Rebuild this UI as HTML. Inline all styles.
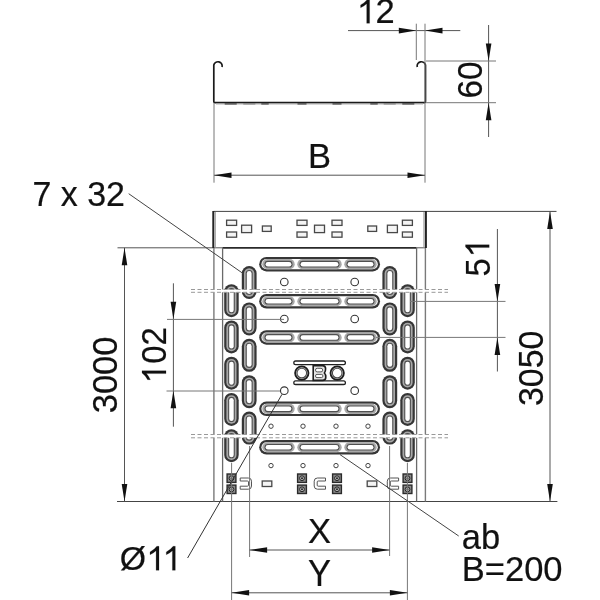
<!DOCTYPE html>
<html><head><meta charset="utf-8"><style>
html,body{margin:0;padding:0;background:#fff;width:600px;height:600px;overflow:hidden}
svg{display:block;will-change:transform}
text{font-family:"Liberation Sans", sans-serif}
</style></head><body>
<svg width="600" height="600" viewBox="0 0 600 600">
<rect width="600" height="600" fill="#fff"/>
<path d="M 222 67 A 4.2 4.2 0 0 0 213.8 65 L 213.8 101.5 Q 213.8 102.6 215 102.6 L 424.3 102.6 Q 425.5 102.6 425.5 101.5 L 425.5 65 A 4.2 4.2 0 0 0 417.3 67" fill="none" stroke="#1a1a1a" stroke-width="1.7"/>
<line x1="216" y1="104" x2="423" y2="104" stroke="#b0b0b0" stroke-width="1" />
<line x1="224.7" y1="103.9" x2="236.7" y2="103.9" stroke="#444" stroke-width="1.3" />
<line x1="261.3" y1="103.9" x2="268.7" y2="103.9" stroke="#444" stroke-width="1.3" />
<line x1="297.5" y1="103.9" x2="306.5" y2="103.9" stroke="#444" stroke-width="1.3" />
<line x1="332.5" y1="103.9" x2="341.5" y2="103.9" stroke="#444" stroke-width="1.3" />
<line x1="370.3" y1="103.9" x2="377.7" y2="103.9" stroke="#444" stroke-width="1.3" />
<line x1="402.3" y1="103.9" x2="414.3" y2="103.9" stroke="#444" stroke-width="1.3" />
<line x1="243.3" y1="103.9" x2="255.3" y2="103.9" stroke="#777" stroke-width="1.1" />
<line x1="383.7" y1="103.9" x2="395.7" y2="103.9" stroke="#777" stroke-width="1.1" />
<line x1="348" y1="30.6" x2="460.3" y2="30.6" stroke="#555" stroke-width="1" />
<polygon points="416.30,30.60 398.80,27.80 398.80,33.40" fill="#111"/>
<polygon points="425.00,30.60 442.50,27.80 442.50,33.40" fill="#111"/>
<line x1="416.3" y1="23.7" x2="416.3" y2="60" stroke="#777" stroke-width="1" />
<line x1="425" y1="23.7" x2="425" y2="182.7" stroke="#777" stroke-width="1" />
<path transform="translate(369.60 23.30)" d="M 0 0 L 0 -24 L -2.2 -24 Q -4.6 -20.6 -9 -18.4 L -9 -15.6 Q -5.6 -17.1 -2.9 -19.6 L -2.9 0 Z" fill="#111" stroke="#111" stroke-width="0.2"/>
<text transform="translate(375.50 23.30) scale(1.000 1.000)" x="0" y="0" font-size="34.5" fill="#111" stroke="#111" stroke-width="0.2">2</text>
<line x1="488.6" y1="25" x2="488.6" y2="137" stroke="#555" stroke-width="1" />
<line x1="426" y1="61" x2="496" y2="61" stroke="#777" stroke-width="1" />
<line x1="426" y1="102.7" x2="496" y2="102.7" stroke="#777" stroke-width="1" />
<polygon points="488.60,61.00 485.80,43.50 491.40,43.50" fill="#111"/>
<polygon points="488.60,102.70 485.80,120.20 491.40,120.20" fill="#111"/>
<text transform="translate(481.50 98.60) rotate(-90) scale(0.966 1.000)" x="0" y="0" font-size="34.5" fill="#111" stroke="#111" stroke-width="0.2">60</text>
<line x1="214" y1="175.2" x2="425" y2="175.2" stroke="#555" stroke-width="1" />
<line x1="214" y1="103" x2="214" y2="182.7" stroke="#777" stroke-width="1" />
<polygon points="214.00,175.20 231.50,172.40 231.50,178.00" fill="#111"/>
<polygon points="425.00,175.20 407.50,172.40 407.50,178.00" fill="#111"/>
<text transform="translate(308.00 167.80) scale(1.000 1.000)" x="0" y="0" font-size="34.5" fill="#111" stroke="#111" stroke-width="0.2">B</text>
<line x1="117.5" y1="247.8" x2="222.4" y2="247.8" stroke="#555" stroke-width="1" />
<line x1="222.4" y1="247.9" x2="416.6" y2="247.9" stroke="#2a2a2a" stroke-width="1.8" />
<line x1="416.6" y1="247.8" x2="426" y2="247.8" stroke="#555" stroke-width="1" />
<line x1="117" y1="501.5" x2="557.4" y2="501.5" stroke="#444" stroke-width="1" />
<line x1="213.5" y1="211.4" x2="556.5" y2="211.4" stroke="#444" stroke-width="1" />
<line x1="213.3" y1="211" x2="213.3" y2="248" stroke="#222" stroke-width="2" />
<line x1="215.2" y1="212" x2="215.2" y2="247.5" stroke="#999" stroke-width="1.2" />
<line x1="425.9" y1="211" x2="425.9" y2="248" stroke="#222" stroke-width="2" />
<line x1="424" y1="212" x2="424" y2="247.5" stroke="#999" stroke-width="1.2" />
<line x1="213.9" y1="248" x2="213.9" y2="501.5" stroke="#7a7a7a" stroke-width="1.4" />
<line x1="222.6" y1="248" x2="222.6" y2="501.5" stroke="#6a6a6a" stroke-width="1.3" />
<line x1="416.6" y1="248" x2="416.6" y2="501.5" stroke="#6a6a6a" stroke-width="1.3" />
<line x1="425.4" y1="248" x2="425.4" y2="501.5" stroke="#7a7a7a" stroke-width="1.4" />
<rect x="226.60" y="220.20" width="10.00" height="5.20" fill="#f4f4f4" stroke="#484848" stroke-width="1.3"/>
<rect x="226.60" y="232.00" width="10.00" height="5.20" fill="#f4f4f4" stroke="#484848" stroke-width="1.3"/>
<rect x="402.40" y="220.20" width="10.00" height="5.20" fill="#f4f4f4" stroke="#484848" stroke-width="1.3"/>
<rect x="402.40" y="232.00" width="10.00" height="5.20" fill="#f4f4f4" stroke="#484848" stroke-width="1.3"/>
<rect x="297.00" y="220.20" width="10.00" height="5.20" fill="#f4f4f4" stroke="#484848" stroke-width="1.3"/>
<rect x="297.00" y="232.00" width="10.00" height="5.20" fill="#f4f4f4" stroke="#484848" stroke-width="1.3"/>
<rect x="332.00" y="220.20" width="10.00" height="5.20" fill="#f4f4f4" stroke="#484848" stroke-width="1.3"/>
<rect x="332.00" y="232.00" width="10.00" height="5.20" fill="#f4f4f4" stroke="#484848" stroke-width="1.3"/>
<rect x="241.60" y="225.20" width="10.00" height="7.40" fill="#f4f4f4" stroke="#484848" stroke-width="1.3"/>
<rect x="387.40" y="225.20" width="10.00" height="7.40" fill="#f4f4f4" stroke="#484848" stroke-width="1.3"/>
<rect x="314.50" y="225.20" width="10.00" height="7.40" fill="#f4f4f4" stroke="#484848" stroke-width="1.3"/>
<rect x="262.40" y="226.00" width="8.80" height="5.40" fill="#f4f4f4" stroke="#484848" stroke-width="1.3"/>
<rect x="367.80" y="226.00" width="8.80" height="5.40" fill="#f4f4f4" stroke="#484848" stroke-width="1.3"/>
<rect x="224.20" y="284.20" width="14.50" height="33.00" rx="7.25" fill="#363636"/><rect x="226.40" y="286.40" width="10.10" height="28.60" rx="5.05" fill="#a8a8a8"/><rect x="228.10" y="288.10" width="6.70" height="25.20" rx="3.35" fill="#505050"/><rect x="229.20" y="289.20" width="4.50" height="23.00" rx="2.25" fill="#fff"/>
<rect x="400.30" y="284.20" width="14.50" height="33.00" rx="7.25" fill="#363636"/><rect x="402.50" y="286.40" width="10.10" height="28.60" rx="5.05" fill="#a8a8a8"/><rect x="404.20" y="288.10" width="6.70" height="25.20" rx="3.35" fill="#505050"/><rect x="405.30" y="289.20" width="4.50" height="23.00" rx="2.25" fill="#fff"/>
<rect x="241.80" y="266.00" width="14.80" height="33.00" rx="7.40" fill="#363636"/><rect x="244.00" y="268.20" width="10.40" height="28.60" rx="5.20" fill="#a8a8a8"/><rect x="245.70" y="269.90" width="7.00" height="25.20" rx="3.50" fill="#505050"/><rect x="246.80" y="271.00" width="4.80" height="23.00" rx="2.40" fill="#fff"/>
<rect x="382.40" y="266.00" width="14.80" height="33.00" rx="7.40" fill="#363636"/><rect x="384.60" y="268.20" width="10.40" height="28.60" rx="5.20" fill="#a8a8a8"/><rect x="386.30" y="269.90" width="7.00" height="25.20" rx="3.50" fill="#505050"/><rect x="387.40" y="271.00" width="4.80" height="23.00" rx="2.40" fill="#fff"/>
<rect x="224.20" y="320.45" width="14.50" height="33.00" rx="7.25" fill="#363636"/><rect x="226.40" y="322.65" width="10.10" height="28.60" rx="5.05" fill="#a8a8a8"/><rect x="228.10" y="324.35" width="6.70" height="25.20" rx="3.35" fill="#505050"/><rect x="229.20" y="325.45" width="4.50" height="23.00" rx="2.25" fill="#fff"/>
<rect x="400.30" y="320.45" width="14.50" height="33.00" rx="7.25" fill="#363636"/><rect x="402.50" y="322.65" width="10.10" height="28.60" rx="5.05" fill="#a8a8a8"/><rect x="404.20" y="324.35" width="6.70" height="25.20" rx="3.35" fill="#505050"/><rect x="405.30" y="325.45" width="4.50" height="23.00" rx="2.25" fill="#fff"/>
<rect x="241.80" y="302.40" width="14.80" height="33.00" rx="7.40" fill="#363636"/><rect x="244.00" y="304.60" width="10.40" height="28.60" rx="5.20" fill="#a8a8a8"/><rect x="245.70" y="306.30" width="7.00" height="25.20" rx="3.50" fill="#505050"/><rect x="246.80" y="307.40" width="4.80" height="23.00" rx="2.40" fill="#fff"/>
<rect x="382.40" y="302.40" width="14.80" height="33.00" rx="7.40" fill="#363636"/><rect x="384.60" y="304.60" width="10.40" height="28.60" rx="5.20" fill="#a8a8a8"/><rect x="386.30" y="306.30" width="7.00" height="25.20" rx="3.50" fill="#505050"/><rect x="387.40" y="307.40" width="4.80" height="23.00" rx="2.40" fill="#fff"/>
<rect x="224.20" y="356.70" width="14.50" height="33.00" rx="7.25" fill="#363636"/><rect x="226.40" y="358.90" width="10.10" height="28.60" rx="5.05" fill="#a8a8a8"/><rect x="228.10" y="360.60" width="6.70" height="25.20" rx="3.35" fill="#505050"/><rect x="229.20" y="361.70" width="4.50" height="23.00" rx="2.25" fill="#fff"/>
<rect x="400.30" y="356.70" width="14.50" height="33.00" rx="7.25" fill="#363636"/><rect x="402.50" y="358.90" width="10.10" height="28.60" rx="5.05" fill="#a8a8a8"/><rect x="404.20" y="360.60" width="6.70" height="25.20" rx="3.35" fill="#505050"/><rect x="405.30" y="361.70" width="4.50" height="23.00" rx="2.25" fill="#fff"/>
<rect x="241.80" y="338.80" width="14.80" height="33.00" rx="7.40" fill="#363636"/><rect x="244.00" y="341.00" width="10.40" height="28.60" rx="5.20" fill="#a8a8a8"/><rect x="245.70" y="342.70" width="7.00" height="25.20" rx="3.50" fill="#505050"/><rect x="246.80" y="343.80" width="4.80" height="23.00" rx="2.40" fill="#fff"/>
<rect x="382.40" y="338.80" width="14.80" height="33.00" rx="7.40" fill="#363636"/><rect x="384.60" y="341.00" width="10.40" height="28.60" rx="5.20" fill="#a8a8a8"/><rect x="386.30" y="342.70" width="7.00" height="25.20" rx="3.50" fill="#505050"/><rect x="387.40" y="343.80" width="4.80" height="23.00" rx="2.40" fill="#fff"/>
<rect x="224.20" y="392.95" width="14.50" height="33.00" rx="7.25" fill="#363636"/><rect x="226.40" y="395.15" width="10.10" height="28.60" rx="5.05" fill="#a8a8a8"/><rect x="228.10" y="396.85" width="6.70" height="25.20" rx="3.35" fill="#505050"/><rect x="229.20" y="397.95" width="4.50" height="23.00" rx="2.25" fill="#fff"/>
<rect x="400.30" y="392.95" width="14.50" height="33.00" rx="7.25" fill="#363636"/><rect x="402.50" y="395.15" width="10.10" height="28.60" rx="5.05" fill="#a8a8a8"/><rect x="404.20" y="396.85" width="6.70" height="25.20" rx="3.35" fill="#505050"/><rect x="405.30" y="397.95" width="4.50" height="23.00" rx="2.25" fill="#fff"/>
<rect x="241.80" y="375.20" width="14.80" height="33.00" rx="7.40" fill="#363636"/><rect x="244.00" y="377.40" width="10.40" height="28.60" rx="5.20" fill="#a8a8a8"/><rect x="245.70" y="379.10" width="7.00" height="25.20" rx="3.50" fill="#505050"/><rect x="246.80" y="380.20" width="4.80" height="23.00" rx="2.40" fill="#fff"/>
<rect x="382.40" y="375.20" width="14.80" height="33.00" rx="7.40" fill="#363636"/><rect x="384.60" y="377.40" width="10.40" height="28.60" rx="5.20" fill="#a8a8a8"/><rect x="386.30" y="379.10" width="7.00" height="25.20" rx="3.50" fill="#505050"/><rect x="387.40" y="380.20" width="4.80" height="23.00" rx="2.40" fill="#fff"/>
<rect x="224.20" y="429.20" width="14.50" height="33.00" rx="7.25" fill="#363636"/><rect x="226.40" y="431.40" width="10.10" height="28.60" rx="5.05" fill="#a8a8a8"/><rect x="228.10" y="433.10" width="6.70" height="25.20" rx="3.35" fill="#505050"/><rect x="229.20" y="434.20" width="4.50" height="23.00" rx="2.25" fill="#fff"/>
<rect x="400.30" y="429.20" width="14.50" height="33.00" rx="7.25" fill="#363636"/><rect x="402.50" y="431.40" width="10.10" height="28.60" rx="5.05" fill="#a8a8a8"/><rect x="404.20" y="433.10" width="6.70" height="25.20" rx="3.35" fill="#505050"/><rect x="405.30" y="434.20" width="4.50" height="23.00" rx="2.25" fill="#fff"/>
<rect x="241.80" y="411.60" width="14.80" height="33.00" rx="7.40" fill="#363636"/><rect x="244.00" y="413.80" width="10.40" height="28.60" rx="5.20" fill="#a8a8a8"/><rect x="245.70" y="415.50" width="7.00" height="25.20" rx="3.50" fill="#505050"/><rect x="246.80" y="416.60" width="4.80" height="23.00" rx="2.40" fill="#fff"/>
<rect x="382.40" y="411.60" width="14.80" height="33.00" rx="7.40" fill="#363636"/><rect x="384.60" y="413.80" width="10.40" height="28.60" rx="5.20" fill="#a8a8a8"/><rect x="386.30" y="415.50" width="7.00" height="25.20" rx="3.50" fill="#505050"/><rect x="387.40" y="416.60" width="4.80" height="23.00" rx="2.40" fill="#fff"/>
<rect x="259.20" y="256.90" width="120.80" height="14.50" rx="7.25" fill="#363636"/><rect x="261.40" y="259.10" width="116.40" height="10.10" rx="5.05" fill="#fff"/><rect x="262.30" y="259.10" width="32.40" height="10.10" rx="5.05" fill="#a8a8a8"/><rect x="297.30" y="259.10" width="44.40" height="10.10" rx="5.05" fill="#a8a8a8"/><rect x="344.30" y="259.10" width="32.40" height="10.10" rx="5.05" fill="#a8a8a8"/><rect x="264.50" y="260.80" width="28.00" height="6.70" rx="3.35" fill="#505050"/><rect x="265.60" y="261.90" width="25.80" height="4.50" rx="2.25" fill="#fff"/><rect x="299.50" y="260.80" width="40.00" height="6.70" rx="3.35" fill="#505050"/><rect x="300.60" y="261.90" width="37.80" height="4.50" rx="2.25" fill="#fff"/><rect x="346.50" y="260.80" width="28.00" height="6.70" rx="3.35" fill="#505050"/><rect x="347.60" y="261.90" width="25.80" height="4.50" rx="2.25" fill="#fff"/>
<rect x="259.20" y="294.00" width="120.80" height="14.50" rx="7.25" fill="#363636"/><rect x="261.40" y="296.20" width="116.40" height="10.10" rx="5.05" fill="#fff"/><rect x="262.30" y="296.20" width="32.40" height="10.10" rx="5.05" fill="#a8a8a8"/><rect x="297.30" y="296.20" width="44.40" height="10.10" rx="5.05" fill="#a8a8a8"/><rect x="344.30" y="296.20" width="32.40" height="10.10" rx="5.05" fill="#a8a8a8"/><rect x="264.50" y="297.90" width="28.00" height="6.70" rx="3.35" fill="#505050"/><rect x="265.60" y="299.00" width="25.80" height="4.50" rx="2.25" fill="#fff"/><rect x="299.50" y="297.90" width="40.00" height="6.70" rx="3.35" fill="#505050"/><rect x="300.60" y="299.00" width="37.80" height="4.50" rx="2.25" fill="#fff"/><rect x="346.50" y="297.90" width="28.00" height="6.70" rx="3.35" fill="#505050"/><rect x="347.60" y="299.00" width="25.80" height="4.50" rx="2.25" fill="#fff"/>
<rect x="259.20" y="330.20" width="120.80" height="14.50" rx="7.25" fill="#363636"/><rect x="261.40" y="332.40" width="116.40" height="10.10" rx="5.05" fill="#fff"/><rect x="262.30" y="332.40" width="32.40" height="10.10" rx="5.05" fill="#a8a8a8"/><rect x="297.30" y="332.40" width="44.40" height="10.10" rx="5.05" fill="#a8a8a8"/><rect x="344.30" y="332.40" width="32.40" height="10.10" rx="5.05" fill="#a8a8a8"/><rect x="264.50" y="334.10" width="28.00" height="6.70" rx="3.35" fill="#505050"/><rect x="265.60" y="335.20" width="25.80" height="4.50" rx="2.25" fill="#fff"/><rect x="299.50" y="334.10" width="40.00" height="6.70" rx="3.35" fill="#505050"/><rect x="300.60" y="335.20" width="37.80" height="4.50" rx="2.25" fill="#fff"/><rect x="346.50" y="334.10" width="28.00" height="6.70" rx="3.35" fill="#505050"/><rect x="347.60" y="335.20" width="25.80" height="4.50" rx="2.25" fill="#fff"/>
<rect x="259.20" y="401.60" width="120.80" height="14.50" rx="7.25" fill="#363636"/><rect x="261.40" y="403.80" width="116.40" height="10.10" rx="5.05" fill="#fff"/><rect x="262.30" y="403.80" width="32.40" height="10.10" rx="5.05" fill="#a8a8a8"/><rect x="297.30" y="403.80" width="44.40" height="10.10" rx="5.05" fill="#a8a8a8"/><rect x="344.30" y="403.80" width="32.40" height="10.10" rx="5.05" fill="#a8a8a8"/><rect x="264.50" y="405.50" width="28.00" height="6.70" rx="3.35" fill="#505050"/><rect x="265.60" y="406.60" width="25.80" height="4.50" rx="2.25" fill="#fff"/><rect x="299.50" y="405.50" width="40.00" height="6.70" rx="3.35" fill="#505050"/><rect x="300.60" y="406.60" width="37.80" height="4.50" rx="2.25" fill="#fff"/><rect x="346.50" y="405.50" width="28.00" height="6.70" rx="3.35" fill="#505050"/><rect x="347.60" y="406.60" width="25.80" height="4.50" rx="2.25" fill="#fff"/>
<rect x="259.20" y="440.00" width="120.80" height="14.50" rx="7.25" fill="#363636"/><rect x="261.40" y="442.20" width="116.40" height="10.10" rx="5.05" fill="#fff"/><rect x="262.30" y="442.20" width="32.40" height="10.10" rx="5.05" fill="#a8a8a8"/><rect x="297.30" y="442.20" width="44.40" height="10.10" rx="5.05" fill="#a8a8a8"/><rect x="344.30" y="442.20" width="32.40" height="10.10" rx="5.05" fill="#a8a8a8"/><rect x="264.50" y="443.90" width="28.00" height="6.70" rx="3.35" fill="#505050"/><rect x="265.60" y="445.00" width="25.80" height="4.50" rx="2.25" fill="#fff"/><rect x="299.50" y="443.90" width="40.00" height="6.70" rx="3.35" fill="#505050"/><rect x="300.60" y="445.00" width="37.80" height="4.50" rx="2.25" fill="#fff"/><rect x="346.50" y="443.90" width="28.00" height="6.70" rx="3.35" fill="#505050"/><rect x="347.60" y="445.00" width="25.80" height="4.50" rx="2.25" fill="#fff"/>
<circle cx="284.3" cy="282" r="3.8" fill="#fff" stroke="#333" stroke-width="1.1"/>
<circle cx="354.7" cy="282" r="3.8" fill="#fff" stroke="#333" stroke-width="1.1"/>
<circle cx="284.3" cy="319" r="3.8" fill="#fff" stroke="#333" stroke-width="1.1"/>
<circle cx="354.7" cy="319" r="3.8" fill="#fff" stroke="#333" stroke-width="1.1"/>
<circle cx="284.3" cy="390.7" r="3.8" fill="#fff" stroke="#333" stroke-width="1.1"/>
<circle cx="354.7" cy="390.7" r="3.8" fill="#fff" stroke="#333" stroke-width="1.1"/>
<circle cx="271" cy="426.2" r="2.2" fill="#fff" stroke="#444" stroke-width="1"/>
<circle cx="303" cy="426.2" r="2.2" fill="#fff" stroke="#444" stroke-width="1"/>
<circle cx="336" cy="426.2" r="2.2" fill="#fff" stroke="#444" stroke-width="1"/>
<circle cx="368" cy="426.2" r="2.2" fill="#fff" stroke="#444" stroke-width="1"/>
<circle cx="271" cy="465.6" r="2.2" fill="#fff" stroke="#444" stroke-width="1"/>
<circle cx="303" cy="465.6" r="2.2" fill="#fff" stroke="#444" stroke-width="1"/>
<circle cx="336" cy="465.6" r="2.2" fill="#fff" stroke="#444" stroke-width="1"/>
<circle cx="368" cy="465.6" r="2.2" fill="#fff" stroke="#444" stroke-width="1"/>
<rect x="293.80" y="361.00" width="51.60" height="3.70" rx="1.85" fill="#fff" stroke="#222" stroke-width="1.3"/>
<rect x="293.80" y="380.80" width="51.60" height="3.70" rx="1.85" fill="#fff" stroke="#222" stroke-width="1.3"/>
<circle cx="301.8" cy="373.1" r="6.7" fill="#d4d4d4" stroke="#1e1e1e" stroke-width="1.8"/>
<circle cx="301.8" cy="373.1" r="4.8" fill="#fff" stroke="#4a4a4a" stroke-width="1.1"/>
<circle cx="337.2" cy="373.1" r="6.7" fill="#d4d4d4" stroke="#1e1e1e" stroke-width="1.8"/>
<circle cx="337.2" cy="373.1" r="4.8" fill="#fff" stroke="#4a4a4a" stroke-width="1.1"/>
<path d="M 313.2 365.6 L 322.4 365.6 Q 325.6 365.6 325.6 368.8 Q 325.6 371.6 324.4 373 Q 325.8 374.4 325.8 377.2 Q 325.8 380.4 322.6 380.4 L 313.2 380.4 Z" fill="#e4e4e4" stroke="#1e1e1e" stroke-width="1.6"/>
<rect x="315.5" y="368.3" width="7.2" height="3.6" rx="1.7" fill="#fff" stroke="#555" stroke-width="1"/>
<rect x="315.5" y="374.4" width="7.4" height="3.2" rx="1.5" fill="#fff" stroke="#555" stroke-width="1"/>
<rect x="227.1" y="474" width="8.8" height="8.4" fill="#8a8a8a" stroke="#2a2a2a" stroke-width="1.4"/><circle cx="231.5" cy="478.2" r="2.4" fill="#bbb" stroke="#222" stroke-width="1"/><circle cx="231.5" cy="478.2" r="1" fill="#222"/>
<rect x="227.1" y="485.1" width="8.8" height="8.4" fill="#8a8a8a" stroke="#2a2a2a" stroke-width="1.4"/><circle cx="231.5" cy="489.3" r="2.4" fill="#bbb" stroke="#222" stroke-width="1"/><circle cx="231.5" cy="489.3" r="1" fill="#222"/>
<rect x="297.6" y="474" width="8.8" height="8.4" fill="#8a8a8a" stroke="#2a2a2a" stroke-width="1.4"/><circle cx="302.0" cy="478.2" r="2.4" fill="#bbb" stroke="#222" stroke-width="1"/><circle cx="302.0" cy="478.2" r="1" fill="#222"/>
<rect x="297.6" y="485.1" width="8.8" height="8.4" fill="#8a8a8a" stroke="#2a2a2a" stroke-width="1.4"/><circle cx="302.0" cy="489.3" r="2.4" fill="#bbb" stroke="#222" stroke-width="1"/><circle cx="302.0" cy="489.3" r="1" fill="#222"/>
<rect x="332.59999999999997" y="474" width="8.8" height="8.4" fill="#8a8a8a" stroke="#2a2a2a" stroke-width="1.4"/><circle cx="336.99999999999994" cy="478.2" r="2.4" fill="#bbb" stroke="#222" stroke-width="1"/><circle cx="336.99999999999994" cy="478.2" r="1" fill="#222"/>
<rect x="332.59999999999997" y="485.1" width="8.8" height="8.4" fill="#8a8a8a" stroke="#2a2a2a" stroke-width="1.4"/><circle cx="336.99999999999994" cy="489.3" r="2.4" fill="#bbb" stroke="#222" stroke-width="1"/><circle cx="336.99999999999994" cy="489.3" r="1" fill="#222"/>
<rect x="403.1" y="474" width="8.8" height="8.4" fill="#8a8a8a" stroke="#2a2a2a" stroke-width="1.4"/><circle cx="407.5" cy="478.2" r="2.4" fill="#bbb" stroke="#222" stroke-width="1"/><circle cx="407.5" cy="478.2" r="1" fill="#222"/>
<rect x="403.1" y="485.1" width="8.8" height="8.4" fill="#8a8a8a" stroke="#2a2a2a" stroke-width="1.4"/><circle cx="407.5" cy="489.3" r="2.4" fill="#bbb" stroke="#222" stroke-width="1"/><circle cx="407.5" cy="489.3" r="1" fill="#222"/>
<path d="M 240.2 478 L 248.3 478 Q 251.5 478 251.5 481.2 L 251.5 486.0 Q 251.5 489.2 248.3 489.2 L 240.2 489.2 L 240.2 486.2 L 247.5 486.2 Q 248.5 486.2 248.5 485.2 L 248.5 482.0 Q 248.5 481.0 247.5 481.0 L 240.2 481.0 Z" fill="#fff" stroke="#555" stroke-width="1"/>
<path d="M 325.5 478 L 317.4 478 Q 314.2 478 314.2 481.2 L 314.2 486.0 Q 314.2 489.2 317.4 489.2 L 325.5 489.2 L 325.5 486.2 L 318.2 486.2 Q 317.2 486.2 317.2 485.2 L 317.2 482.0 Q 317.2 481.0 318.2 481.0 L 325.5 481.0 Z" fill="#fff" stroke="#555" stroke-width="1"/>
<path d="M 398.6 478 L 390.5 478 Q 387.3 478 387.3 481.2 L 387.3 486.0 Q 387.3 489.2 390.5 489.2 L 398.6 489.2 L 398.6 486.2 L 391.3 486.2 Q 390.3 486.2 390.3 485.2 L 390.3 482.0 Q 390.3 481.0 391.3 481.0 L 398.6 481.0 Z" fill="#fff" stroke="#555" stroke-width="1"/>
<rect x="262.20" y="481.00" width="9.60" height="5.50" fill="#f4f4f4" stroke="#484848" stroke-width="1.3"/>
<rect x="367.20" y="481.00" width="9.60" height="5.50" fill="#f4f4f4" stroke="#484848" stroke-width="1.3"/>
<rect x="191" y="289.5" width="257" height="2.8000000000000114" fill="#fff"/>
<line x1="191" y1="289.5" x2="448" y2="289.5" stroke="#999" stroke-width="1" stroke-dasharray="4 2.5"/>
<line x1="191" y1="292.3" x2="448" y2="292.3" stroke="#999" stroke-width="1" stroke-dasharray="4 2.5"/>
<rect x="191" y="434.5" width="257" height="3.3000000000000114" fill="#fff"/>
<line x1="191" y1="434.5" x2="448" y2="434.5" stroke="#999" stroke-width="1" stroke-dasharray="4 2.5"/>
<line x1="191" y1="437.8" x2="448" y2="437.8" stroke="#999" stroke-width="1" stroke-dasharray="4 2.5"/>
<line x1="124.5" y1="247.8" x2="124.5" y2="501.5" stroke="#555" stroke-width="1" />
<polygon points="124.50,247.80 121.70,265.30 127.30,265.30" fill="#111"/>
<polygon points="124.50,501.50 121.70,484.00 127.30,484.00" fill="#111"/>
<text transform="translate(117.30 413.30) rotate(-90) scale(1.000 1.040)" x="0" y="0" font-size="34.5" fill="#111" stroke="#111" stroke-width="0.2">3000</text>
<line x1="173.4" y1="283.3" x2="173.4" y2="426.7" stroke="#555" stroke-width="1" />
<line x1="167" y1="319.4" x2="284" y2="319.4" stroke="#777" stroke-width="1" />
<line x1="166.5" y1="391" x2="280" y2="391" stroke="#777" stroke-width="1" />
<polygon points="173.40,319.30 170.60,301.80 176.20,301.80" fill="#111"/>
<polygon points="173.40,390.80 170.60,408.30 176.20,408.30" fill="#111"/>
<path transform="translate(166.00 370.70) rotate(-90)" d="M 0 0 L 0 -24 L -2.2 -24 Q -4.6 -20.6 -9 -18.4 L -9 -15.6 Q -5.6 -17.1 -2.9 -19.6 L -2.9 0 Z" fill="#111" stroke="#111" stroke-width="0.2"/>
<text transform="translate(166.20 363.70) rotate(-90) scale(0.955 1.000)" x="0" y="0" font-size="34.5" fill="#111" stroke="#111" stroke-width="0.2">02</text>
<line x1="497.4" y1="229" x2="497.4" y2="371.5" stroke="#555" stroke-width="1" />
<line x1="410" y1="301.4" x2="505.5" y2="301.4" stroke="#777" stroke-width="1" />
<line x1="376" y1="337.4" x2="505.5" y2="337.4" stroke="#777" stroke-width="1" />
<polygon points="497.40,301.40 494.60,283.90 500.20,283.90" fill="#111"/>
<polygon points="497.40,337.40 494.60,354.90 500.20,354.90" fill="#111"/>
<path transform="translate(489.20 244.70) rotate(-90)" d="M 0 0 L 0 -23.7 L -2.2 -23.7 Q -4.6 -20.3 -9 -18.1 L -9 -15.299999999999999 Q -5.6 -16.799999999999997 -2.9 -19.299999999999997 L -2.9 0 Z" fill="#111" stroke="#111" stroke-width="0.2"/>
<text transform="translate(489.50 276.40) rotate(-90) scale(0.950 1.000)" x="0" y="0" font-size="34.5" fill="#111" stroke="#111" stroke-width="0.2">5</text>
<line x1="550" y1="211.4" x2="550" y2="501.5" stroke="#555" stroke-width="1" />
<polygon points="550.00,211.40 547.20,228.90 552.80,228.90" fill="#111"/>
<polygon points="550.00,501.50 547.20,484.00 552.80,484.00" fill="#111"/>
<text transform="translate(543.30 406.00) rotate(-90) scale(0.982 1.000)" x="0" y="0" font-size="34.5" fill="#111" stroke="#111" stroke-width="0.2">3050</text>
<line x1="249.6" y1="446" x2="249.6" y2="557" stroke="#777" stroke-width="1" />
<line x1="389.6" y1="446" x2="389.6" y2="556" stroke="#777" stroke-width="1" />
<line x1="231.6" y1="463" x2="231.6" y2="600" stroke="#777" stroke-width="1" />
<line x1="407.4" y1="463" x2="407.4" y2="600" stroke="#777" stroke-width="1" />
<line x1="249.6" y1="550" x2="389.6" y2="550" stroke="#555" stroke-width="1" />
<polygon points="249.60,550.00 267.10,547.20 267.10,552.80" fill="#111"/>
<polygon points="389.60,550.00 372.10,547.20 372.10,552.80" fill="#111"/>
<line x1="231.6" y1="592.8" x2="407.4" y2="592.8" stroke="#555" stroke-width="1" />
<polygon points="231.60,592.80 249.10,590.00 249.10,595.60" fill="#111"/>
<polygon points="407.40,592.80 389.90,590.00 389.90,595.60" fill="#111"/>
<text transform="translate(308.00 542.70) scale(1.000 1.040)" x="0" y="0" font-size="34.5" fill="#111" stroke="#111" stroke-width="0.2">X</text>
<text transform="translate(308.00 585.70) scale(1.000 1.050)" x="0" y="0" font-size="34.5" fill="#111" stroke="#111" stroke-width="0.2">Y</text>
<text transform="translate(32.40 205.80) scale(0.985 1.000)" x="0" y="0" font-size="34.5" fill="#111" stroke="#111" stroke-width="0.2">7 x 32</text>
<line x1="128.7" y1="193.7" x2="243.5" y2="273.8" stroke="#444" stroke-width="1" />
<text transform="translate(119.70 570.20) scale(0.980 0.970)" x="0" y="0" font-size="34.5" fill="#111" stroke="#111" stroke-width="0.2">Ø</text>
<path transform="translate(159.00 570.30)" d="M 0 0 L 0 -24 L -2.2 -24 Q -4.6 -20.6 -9 -18.4 L -9 -15.6 Q -5.6 -17.1 -2.9 -19.6 L -2.9 0 Z" fill="#111" stroke="#111" stroke-width="0.2"/>
<path transform="translate(175.30 570.30)" d="M 0 0 L 0 -24 L -2.2 -24 Q -4.6 -20.6 -9 -18.4 L -9 -15.6 Q -5.6 -17.1 -2.9 -19.6 L -2.9 0 Z" fill="#111" stroke="#111" stroke-width="0.2"/>
<line x1="282" y1="394.3" x2="187.6" y2="558" stroke="#333" stroke-width="1" />
<text transform="translate(461.80 549.00) scale(1.000 1.000)" x="0" y="0" font-size="34.5" fill="#111" stroke="#111" stroke-width="0.2">ab</text>
<text transform="translate(461.80 580.70) scale(1.000 1.000)" x="0" y="0" font-size="34.5" fill="#111" stroke="#111" stroke-width="0.2">B=200</text>
<line x1="340" y1="454.6" x2="458.7" y2="536" stroke="#444" stroke-width="1" />
</svg>
</body></html>
